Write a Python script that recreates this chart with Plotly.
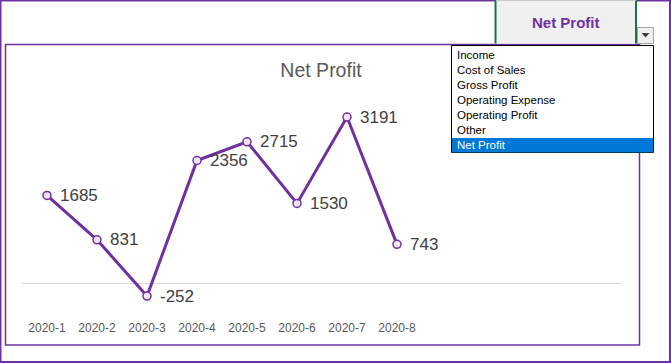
import plotly.graph_objects as go

# ---- data ----
categories = ["2020-1", "2020-2", "2020-3", "2020-4", "2020-5", "2020-6", "2020-7", "2020-8"]
net_profit = [1685, 831, -252, 2356, 2715, 1530, 3191, 743]
menu_items = ["Income", "Cost of Sales", "Gross Profit", "Operating Expense",
              "Operating Profit", "Other", "Net Profit"]
selected_item = "Net Profit"
chart_title = "Net Profit"

W, H = 671, 363
PURPLE = "#7030A0"


def px(x):
    return x / W


def py(y):
    return 1 - y / H


x_idx = list(range(len(categories)))

fig = go.Figure()
fig.add_trace(go.Scatter(
    x=x_idx, y=net_profit,
    mode="lines+markers",
    line=dict(color=PURPLE, width=3),
    marker=dict(size=8, color="#ece6f4", line=dict(color=PURPLE, width=1.5)),
    hoverinfo="skip",
    cliponaxis=False,
    showlegend=False,
))

shapes = []
annotations = []

# data labels
for xi, v in zip(x_idx, net_profit):
    annotations.append(dict(xref="x", yref="y", x=xi, y=v, text=str(v),
                            xanchor="left", yanchor="middle", xshift=11, showarrow=False,
                            font=dict(family="Liberation Sans", size=17, color="#404040")))

# outer frame
shapes.append(dict(type="rect", xref="paper", yref="paper",
                   x0=px(0.5), x1=px(670), y0=py(362), y1=py(0.5),
                   line=dict(color=PURPLE, width=2), layer="above"))
# chart box
shapes.append(dict(type="rect", xref="paper", yref="paper",
                   x0=px(5.5), x1=px(639.5), y0=py(345), y1=py(44.5),
                   line=dict(color=PURPLE, width=1.5), layer="above"))
# button
shapes.append(dict(type="rect", xref="paper", yref="paper",
                   x0=px(495), x1=px(636.5), y0=py(43.5), y1=py(0.5),
                   fillcolor="#f0f0f0", line=dict(width=0), layer="above"))
for bx in (495.5, 636):
    shapes.append(dict(type="line", xref="paper", yref="paper",
                       x0=px(bx), x1=px(bx), y0=py(43.5), y1=py(0),
                       line=dict(color="#217346", width=2), layer="above"))
shapes.append(dict(type="line", xref="paper", yref="paper",
                   x0=px(496), x1=px(636), y0=py(0.5), y1=py(0.5),
                   line=dict(color="#c8c8c8", width=1), layer="above"))
# dropdown arrow box
shapes.append(dict(type="rect", xref="paper", yref="paper",
                   x0=px(637.5), x1=px(653.5), y0=py(43.5), y1=py(27.5),
                   fillcolor="#f0f0f0", line=dict(color="#a0a0a0", width=1), layer="above"))
shapes.append(dict(type="path", xref="paper", yref="paper",
                   path=f"M {px(641.5)},{py(33)} L {px(649.5)},{py(33)} L {px(645.5)},{py(37.5)} Z",
                   fillcolor="#404040", line=dict(width=0), layer="above"))
# dropdown list box
shapes.append(dict(type="rect", xref="paper", yref="paper",
                   x0=px(451.5), x1=px(653.5), y0=py(152.5), y1=py(45.5),
                   fillcolor="white", line=dict(color="black", width=1), layer="above"))
row_h = 15
row0 = 55
for i, item in enumerate(menu_items):
    cy = row0 + i * row_h
    sel = item == selected_item
    if sel:
        shapes.append(dict(type="rect", xref="paper", yref="paper",
                           x0=px(452), x1=px(653), y0=py(cy + 7.5), y1=py(cy - 7),
                           fillcolor="#0078D7", line=dict(width=0), layer="above"))
    annotations.append(dict(xref="paper", yref="paper", x=px(455), y=py(cy),
                            xanchor="left", yanchor="middle", showarrow=False,
                            text=item,
                            font=dict(family="Liberation Sans", size=11.5,
                                      color="white" if sel else "black")))

# button label
annotations.append(dict(xref="paper", yref="paper", x=px(566), y=py(23),
                        xanchor="center", yanchor="middle", showarrow=False,
                        text="<b>" + selected_item + "</b>",
                        font=dict(family="Liberation Sans", size=15, color=PURPLE)))

fig.update_layout(
    width=W, height=H,
    margin=dict(l=0, r=0, t=0, b=0),
    paper_bgcolor="white", plot_bgcolor="white",
    title=dict(text=chart_title, x=px(321), y=py(70), xanchor="center", yanchor="middle",
               font=dict(family="Liberation Sans", size=19.5, color="#595959")),
    xaxis=dict(domain=[px(22), px(622)], range=[-0.5, 11.5],
               tickmode="array", tickvals=x_idx, ticktext=categories,
               showgrid=False, zeroline=False, showline=False, ticks="",
               tickfont=dict(family="Liberation Sans", size=12, color="#595959"),
               ticklabelstandoff=5),
    yaxis=dict(domain=[py(314.2), py(101)], range=[-600, 3500],
               showgrid=False, showticklabels=False, ticks="",
               zeroline=True, zerolinecolor="#d9d9d9", zerolinewidth=1),
    shapes=shapes,
    annotations=annotations,
)

fig.write_html("out.html", config={"displayModeBar": False},
               post_script="document.body.style.margin='0';document.body.style.padding='0';")
